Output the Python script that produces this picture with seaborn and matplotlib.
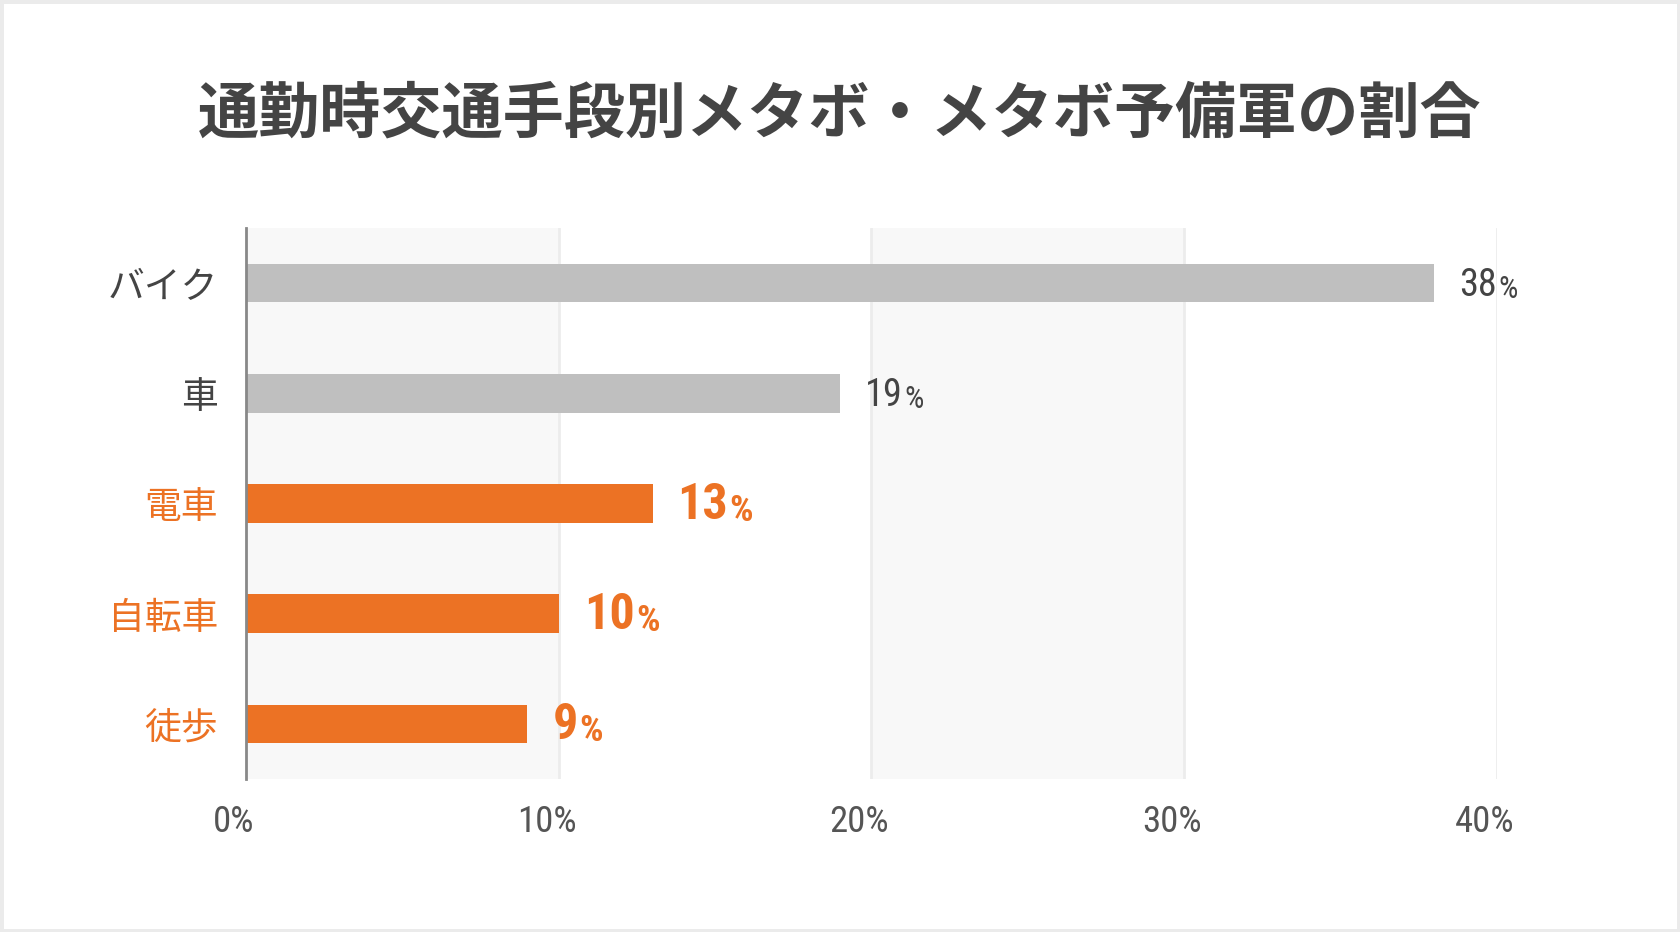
import matplotlib
matplotlib.use("Agg")
import matplotlib.pyplot as plt
import matplotlib.transforms as mtransforms
import seaborn as sns
import pandas as pd
from matplotlib.patches import Rectangle
from matplotlib import font_manager

# ---- data ----
title = "通勤時交通手段別メタボ・メタボ予備軍の割合"
categories = ["バイク", "車", "電車", "自転車", "徒歩"]
values = [38, 19, 13, 10, 9]
highlight = [False, False, True, True, True]
xticks = [0, 10, 20, 30, 40]
xtick_labels = ["0%", "10%", "20%", "30%", "40%"]

GRAY_BAR = "#bfbfbf"
ORANGE = "#ec7224"
TEXT = "#444444"

sns.set_theme(style="white")
plt.rcParams["font.family"] = ["Noto Sans CJK JP", "DejaVu Sans"]

# pick a narrow font for numbers if any is installed
NUM_FONT, NUM_STRETCH = "Roboto", "normal"
fl = font_manager.fontManager.ttflist
names = {f.name for f in fl}
for cand in ["Roboto Condensed", "Liberation Sans Narrow", "Open Sans Condensed",
             "Noto Sans Condensed", "DejaVu Sans Condensed"]:
    if cand in names:
        NUM_FONT = cand
        break
else:
    for f in fl:
        if f.name in ("Roboto", "Noto Sans", "Open Sans", "DejaVu Sans") and \
                str(f.stretch) in ("condensed", "semi-condensed", "500", "75", "87.5"):
            NUM_FONT, NUM_STRETCH = f.name, f.stretch
            break

df = pd.DataFrame({"category": categories, "value": values})
palette = {c: (ORANGE if h else GRAY_BAR) for c, h in zip(categories, highlight)}

fig = plt.figure(figsize=(16.8, 9.32), dpi=100)
fig.patch.set_facecolor("white")
ax = fig.add_axes([0.1464, 0.1642, 0.891 - 0.1464, 0.7554 - 0.1642])
ax.set_facecolor("white")

# alternating bands
for i in range(0, len(xticks) - 1):
    if i % 2 == 0:
        ax.axvspan(xticks[i], xticks[i + 1], color="#f8f8f8", zorder=0, lw=0)
for t in xticks[1:]:
    ax.axvline(t, color="#ececec", lw=2, zorder=0.5)

sns.barplot(data=df, x="value", y="category", hue="category", palette=palette,
            orient="h", width=0.35, legend=False, ax=ax, zorder=2,
            edgecolor="none", saturation=1)

ax.set_xlim(0, 40)
ax.set_ylim(4.5, -0.5)
ax.set_xlabel("")
ax.set_ylabel("")
ax.set_xticks(xticks)
ax.set_xticklabels(xtick_labels, fontfamily=NUM_FONT, fontstretch=NUM_STRETCH,
                   fontsize=26.5, color="#555555", weight="normal")
ax.tick_params(axis="x", length=0, pad=18)
ax.tick_params(axis="y", length=0, pad=20)
shift = mtransforms.ScaledTranslation(-12 / 100, 0, fig.dpi_scale_trans)
for lab in ax.get_xticklabels():
    lab.set_ha("center")
    lab.set_transform(lab.get_transform() + shift)
ax.set_yticks(range(len(categories)))
ax.set_yticklabels(categories, fontsize=26.5)
for lab, h in zip(ax.get_yticklabels(), highlight):
    lab.set_color(ORANGE if h else TEXT)

for s in ["top", "right", "bottom"]:
    ax.spines[s].set_visible(False)
ax.spines["left"].set_color("#888888")
ax.spines["left"].set_linewidth(2)
ax.spines["left"].set_zorder(3)

# value labels
for i, (v, h) in enumerate(zip(values, highlight)):
    if h:
        fs, col, wt, pr = 36, ORANGE, "bold", 0.74
    else:
        fs, col, wt, pr = 27.5, TEXT, "normal", 0.8
    t = ax.annotate(f"{v}", xy=(v, i), xytext=(18, -1.5), textcoords="offset points",
                    ha="left", va="center", fontsize=fs, color=col, weight=wt,
                    fontfamily=NUM_FONT, fontstretch=NUM_STRETCH)
    ax.annotate("%", xy=(1, 0), xycoords=t, xytext=(1, 0), textcoords="offset points",
                ha="left", va="bottom", fontsize=fs * pr, color=col, weight=wt,
                fontfamily=NUM_FONT, fontstretch=NUM_STRETCH)

fig.text(0.5, 1 - 115 / 932, title, ha="center", va="center", fontsize=44,
         weight="bold", color=TEXT)

# light frame around the figure
fig.patches.append(Rectangle((0, 0), 1, 1, transform=fig.transFigure, fill=False,
                             edgecolor="#ebebeb", lw=5, zorder=10))

fig.savefig("out.png", dpi=100, facecolor="white")
